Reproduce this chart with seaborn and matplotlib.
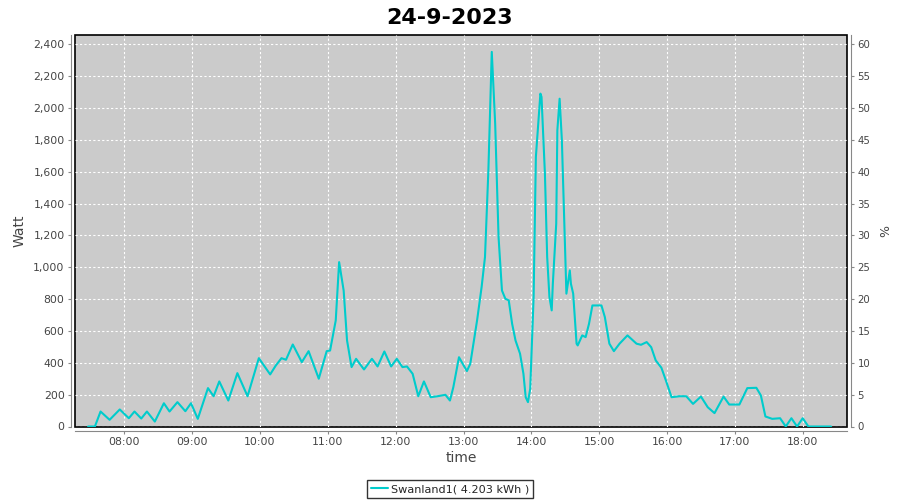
import pandas as pd
import seaborn as sns
import matplotlib.pyplot as plt
import matplotlib.dates as mdates
from matplotlib.ticker import FuncFormatter, MultipleLocator

# readings taken off the chart (time of day, watt)
times = ['07:28', '07:34', '07:39', '07:47', '07:56', '08:04', '08:09', '08:15', '08:20', '08:27',
         '08:35', '08:40', '08:47', '08:54', '08:59', '09:05', '09:14', '09:19', '09:24', '09:32',
         '09:40', '09:49', '09:59', '10:09', '10:14', '10:19', '10:23', '10:29', '10:37', '10:43',
         '10:52', '10:59', '11:02', '11:07', '11:10', '11:14', '11:17', '11:21', '11:25', '11:32',
         '11:39', '11:44', '11:50', '11:56', '12:01', '12:06', '12:10', '12:15', '12:20', '12:25',
         '12:31', '12:37', '12:44', '12:48', '12:51', '12:56', '13:03', '13:06', '13:12', '13:16',
         '13:19', '13:22', '13:25', '13:28', '13:31', '13:34', '13:37', '13:40', '13:43', '13:46',
         '13:50', '13:53', '13:55', '13:57', '13:59', '14:02', '14:04', '14:08', '14:09', '14:12',
         '14:14', '14:16', '14:18', '14:19', '14:22', '14:23', '14:25', '14:27', '14:30', '14:31',
         '14:34', '14:35', '14:37', '14:40', '14:41', '14:45', '14:48', '14:51', '14:54', '15:00',
         '15:02', '15:05', '15:09', '15:13', '15:18', '15:25', '15:33', '15:37', '15:42', '15:46',
         '15:50', '15:55', '15:59', '16:04', '16:11', '16:17', '16:23', '16:30', '16:36', '16:42',
         '16:50', '16:55', '17:04', '17:11', '17:19', '17:23', '17:27', '17:33', '17:40', '17:45',
         '17:50', '17:55', '18:00', '18:05', '18:25']
watt = [0, 0, 94, 42, 107, 52, 94, 50, 94, 31,
        146, 94, 153, 96, 146, 48, 241, 190, 283, 163,
        335, 190, 429, 327, 383, 429, 419, 515, 404, 473,
        300, 473, 477, 666, 1032, 854, 540, 373, 425, 358,
        425, 377, 471, 377, 425, 373, 377, 331, 190, 283,
        184, 190, 199, 163, 247, 435, 348, 394, 666, 875,
        1064, 1608, 2352, 1902, 1189, 854, 802, 792, 645, 540,
        457, 331, 184, 153, 237, 812, 1692, 2090, 2069, 1587,
        1064, 812, 729, 896, 1273, 1860, 2058, 1797, 1064, 834,
        980, 896, 834, 520, 509, 572, 561, 645, 760, 760,
        760, 687, 520, 473, 520, 572, 520, 513, 530, 498,
        415, 369, 289, 184, 190, 190, 142, 188, 121, 84,
        188, 138, 138, 241, 243, 195, 63, 48, 52, 0,
        52, 0, 52, 0, 0]

title = '24-9-2023'
label = 'Swanland1( 4.203 kWh )'
day = '2023-09-24 '

df = pd.DataFrame({'time': pd.to_datetime([day + t for t in times]), 'Watt': watt})

sns.set_style('ticks')
plt.rcParams['font.family'] = ['DejaVu Sans']

fig = plt.figure(figsize=(9, 5), dpi=100)
ax = fig.add_axes([75 / 900, 1 - 426.5 / 500, 772 / 900, 391.5 / 500])
ax.set_facecolor('#cbcbcb')
ax.patch.set_edgecolor('black')
ax.patch.set_linewidth(1.2)

sns.lineplot(data=df, x='time', y='Watt', ax=ax, color='#00cccc', lw=1.5, label=label, legend=False)

ax.set_xlim(pd.Timestamp(day + '07:16:24'), pd.Timestamp(day + '18:39:10'))
ax.set_ylim(0, 2458)
ax.yaxis.set_major_locator(MultipleLocator(200))
ax.yaxis.set_major_formatter(FuncFormatter(lambda v, p: f'{v:,.0f}'))
ax.xaxis.set_major_locator(mdates.HourLocator())
ax.xaxis.set_major_formatter(mdates.DateFormatter('%H:%M'))
ax.grid(True, color='white', linestyle=(0, (2, 2)), linewidth=0.8)

ax2 = ax.twinx()
ax2.set_ylim(0, 2458 / 40)
ax2.yaxis.set_major_locator(MultipleLocator(5))
ax2.set_ylabel('%', fontsize=9, color='#444444', labelpad=6)

for a in (ax, ax2):
    for s in a.spines.values():
        s.set_color('#888888')
        s.set_position(('outward', 3))
    a.tick_params(colors='#888888', labelcolor='#444444', labelsize=7.8, length=2.5, width=0.8, pad=2)
ax.spines['top'].set_visible(False)
ax.spines['right'].set_visible(False)
ax2.spines['top'].set_visible(False)
ax2.spines['left'].set_visible(False)
ax2.spines['bottom'].set_visible(False)
ax2.tick_params(labelsize=7.3)

ax.set_xlabel('time', fontsize=10, color='#444444', labelpad=3)
ax.set_ylabel('Watt', fontsize=10, color='#444444', labelpad=5)
fig.suptitle(title, fontsize=16, fontweight='bold', color='black', y=0.985)

fig.legend(loc='lower center', bbox_to_anchor=(0.5, 0.004), frameon=True, fancybox=False,
           edgecolor='black', fontsize=8.1, handlelength=1.5, handletextpad=0.3, borderpad=0.35,
           borderaxespad=0)

plt.savefig('out.png', dpi=100)
